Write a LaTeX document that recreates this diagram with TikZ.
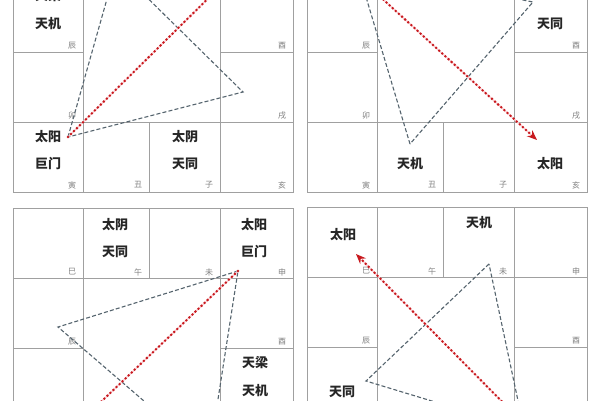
\documentclass[tikz,border=0pt]{standalone}
\usepackage{fontspec}
\newfontfamily\cjk{Noto Sans CJK SC}
\usetikzlibrary{calc,arrows.meta}
\definecolor{gridgray}{RGB}{160,160,160}
\definecolor{trigray}{RGB}{85,100,110}
\definecolor{arrowred}{RGB}{200,25,30}
\definecolor{halopink}{RGB}{250,205,210}

\tikzset{
  cellline/.style={draw=gridgray, line width=0.9pt},
  star/.style={font=\cjk\bfseries\fontsize{13}{13}\selectfont, text=black!85, inner sep=0pt},
  branch/.style={font=\cjk\fontsize{8}{8}\selectfont, text=black!50, inner sep=0pt},
  sanhe/.style={draw=trigray, line width=1.1pt, dash pattern=on 4pt off 2.2pt},
  halo/.style={draw=halopink, line width=1.4pt},
  chong/.style={draw=arrowred, line width=2.8pt, line cap=round, dash pattern=on 0pt off 4.2pt, -{Stealth[length=10pt,width=8pt]}},
}

\begin{document}
\begin{tikzpicture}[x=1pt,y=-1pt]
\useasboundingbox (0,0) rectangle (600,400);
\clip (0,0) rectangle (600,400);
\fill[white] (0,0) rectangle (600,400);

\coordinate (tl) at (13,-88);
\coordinate (tr) at (307,-88);
\coordinate (bl) at (13,208);
\coordinate (br) at (307,207);

\draw[cellline] (tl) rectangle ($ (tl)+(280,280) $)
  ($ (tl)+(0,70) $) -- ($ (tl)+(280,70) $) ($ (tl)+(0,210) $) -- ($ (tl)+(280,210) $)
  ($ (tl)+(0,140) $) -- ($ (tl)+(70,140) $) ($ (tl)+(207,140) $) -- ($ (tl)+(280,140) $)
  ($ (tl)+(70,0) $) -- ($ (tl)+(70,280) $) ($ (tl)+(207,0) $) -- ($ (tl)+(207,280) $)
  ($ (tl)+(136,0) $) -- ($ (tl)+(136,70) $) ($ (tl)+(136,210) $) -- ($ (tl)+(136,280) $);
\draw[cellline] (tr) rectangle ($ (tr)+(280,280) $)
  ($ (tr)+(0,70) $) -- ($ (tr)+(280,70) $) ($ (tr)+(0,210) $) -- ($ (tr)+(280,210) $)
  ($ (tr)+(0,140) $) -- ($ (tr)+(70,140) $) ($ (tr)+(207,140) $) -- ($ (tr)+(280,140) $)
  ($ (tr)+(70,0) $) -- ($ (tr)+(70,280) $) ($ (tr)+(207,0) $) -- ($ (tr)+(207,280) $)
  ($ (tr)+(136,0) $) -- ($ (tr)+(136,70) $) ($ (tr)+(136,210) $) -- ($ (tr)+(136,280) $);
\draw[cellline] (bl) rectangle ($ (bl)+(280,280) $)
  ($ (bl)+(0,70) $) -- ($ (bl)+(280,70) $) ($ (bl)+(0,210) $) -- ($ (bl)+(280,210) $)
  ($ (bl)+(0,140) $) -- ($ (bl)+(70,140) $) ($ (bl)+(207,140) $) -- ($ (bl)+(280,140) $)
  ($ (bl)+(70,0) $) -- ($ (bl)+(70,280) $) ($ (bl)+(207,0) $) -- ($ (bl)+(207,280) $)
  ($ (bl)+(136,0) $) -- ($ (bl)+(136,70) $) ($ (bl)+(136,210) $) -- ($ (bl)+(136,280) $);
\draw[cellline] (br) rectangle ($ (br)+(280,280) $)
  ($ (br)+(0,70) $) -- ($ (br)+(280,70) $) ($ (br)+(0,210) $) -- ($ (br)+(280,210) $)
  ($ (br)+(0,140) $) -- ($ (br)+(70,140) $) ($ (br)+(207,140) $) -- ($ (br)+(280,140) $)
  ($ (br)+(70,0) $) -- ($ (br)+(70,280) $) ($ (br)+(207,0) $) -- ($ (br)+(207,280) $)
  ($ (br)+(136,0) $) -- ($ (br)+(136,70) $) ($ (br)+(136,210) $) -- ($ (br)+(136,280) $);

% top left
\node[star] (tlliang) at ($ (tl)+(35,84) $) {天梁};
\node[star] (tlji) at ($ (tl)+(35,112) $) {天机};
\node[star] (tlyang) at ($ (tl)+(35,225) $) {太阳};
\node[star] (tlmen) at ($ (tl)+(35,252) $) {巨门};
\node[star] (tlyinstar) at ($ (tl)+(172,225) $) {太阴};
\node[star] (tltong) at ($ (tl)+(172,252) $) {天同};
\node[branch] (tlbchen) at ($ (tl)+(59,134) $) {辰};
\node[branch] (tlbyou) at ($ (tl)+(269,134) $) {酉};
\node[branch] (tlbmao) at ($ (tl)+(59,204) $) {卯};
\node[branch] (tlbxu) at ($ (tl)+(269,204) $) {戌};
\node[branch] (tlbyin) at ($ (tl)+(59,273) $) {寅};
\node[branch] (tlbchou) at ($ (tl)+(125,273) $) {丑};
\node[branch] (tlbzi) at ($ (tl)+(196,273) $) {子};
\node[branch] (tlbhai) at ($ (tl)+(269,273) $) {亥};

% top right
\node[star] (trtong) at ($ (tr)+(243,112) $) {天同};
\node[star] (trji) at ($ (tr)+(103,252) $) {天机};
\node[star] (tryang) at ($ (tr)+(243,252) $) {太阳};
\node[branch] (trbchen) at ($ (tr)+(59,134) $) {辰};
\node[branch] (trbyou) at ($ (tr)+(269,134) $) {酉};
\node[branch] (trbmao) at ($ (tr)+(59,204) $) {卯};
\node[branch] (trbxu) at ($ (tr)+(269,204) $) {戌};
\node[branch] (trbyin) at ($ (tr)+(59,273) $) {寅};
\node[branch] (trbchou) at ($ (tr)+(125,273) $) {丑};
\node[branch] (trbzi) at ($ (tr)+(196,273) $) {子};
\node[branch] (trbhai) at ($ (tr)+(269,273) $) {亥};

% bottom left
\node[star] (blyinstar) at ($ (bl)+(102,17) $) {太阴};
\node[star] (bltong) at ($ (bl)+(102,44) $) {天同};
\node[star] (blyang) at ($ (bl)+(241,17) $) {太阳};
\node[star] (blmen) at ($ (bl)+(241,44) $) {巨门};
\node[star] (blliang) at ($ (bl)+(242,155) $) {天梁};
\node[star] (blji) at ($ (bl)+(242,183) $) {天机};
\node[branch] (blbsi) at ($ (bl)+(59,64) $) {巳};
\node[branch] (blbwu) at ($ (bl)+(125,64) $) {午};
\node[branch] (blbwei) at ($ (bl)+(196,64) $) {未};
\node[branch] (blbshen) at ($ (bl)+(269,64) $) {申};
\node[branch] (blbchen) at ($ (bl)+(59,134) $) {辰};
\node[branch] (blbyou) at ($ (bl)+(269,134) $) {酉};

% bottom right
\node[star] (bryang) at ($ (br)+(36,28) $) {太阳};
\node[star] (brji) at ($ (br)+(172,16) $) {天机};
\node[star] (brtong) at ($ (br)+(35,185) $) {天同};
\node[branch] (brbsi) at ($ (br)+(59,64) $) {巳};
\node[branch] (brbwu) at ($ (br)+(125,64) $) {午};
\node[branch] (brbwei) at ($ (br)+(196,64) $) {未};
\node[branch] (brbshen) at ($ (br)+(269,64) $) {申};
\node[branch] (brbchen) at ($ (br)+(59,134) $) {辰};
\node[branch] (brbyou) at ($ (br)+(269,134) $) {酉};

\coordinate (tlyin) at ($ (tl)+(55,225) $);
\coordinate (tlwu) at ($ (tl)+(103,55) $);
\coordinate (tlxu) at ($ (tl)+(230,180) $);
\coordinate (tlshen) at ($ (tl)+(237,45) $);
\draw[sanhe] (tlyin) -- (tlwu) -- (tlxu) -- cycle;
\draw[halo,shorten >=8pt] (tlyin) -- (tlshen);
\draw[chong] (tlyin) -- (tlshen);

\coordinate (trchou) at ($ (tr)+(103,232) $);
\coordinate (tryou) at ($ (tr)+(226,90) $);
\coordinate (trsi) at ($ (tr)+(50,55) $);
\coordinate (trsifrom) at ($ (tr)+(33,48) $);
\coordinate (trhai) at ($ (tr)+(230,228) $);
\draw[sanhe] (trchou) -- (trsi) -- (tryou) -- cycle;
\draw[halo,shorten >=8pt] (trsifrom) -- (trhai);
\draw[chong] (trsifrom) -- (trhai);

\coordinate (blshen) at ($ (bl)+(225,63) $);
\coordinate (blchen) at ($ (bl)+(45,119) $);
\coordinate (blzi) at ($ (bl)+(196,249) $);
\coordinate (blyin) at ($ (bl)+(48,232) $);
\draw[sanhe] (blshen) -- (blchen) -- (blzi) -- cycle;
\draw[halo,shorten >=8pt] (blshen) -- (blyin);
\draw[chong] (blshen) -- (blyin);

\coordinate (brwei) at ($ (br)+(182,57) $);
\coordinate (brmao) at ($ (br)+(59,174) $);
\coordinate (brhai) at ($ (br)+(217,222) $);
\coordinate (brhaifrom) at ($ (br)+(233,233) $);
\coordinate (brsi) at ($ (br)+(49,47) $);
\draw[sanhe] (brwei) -- (brmao) -- (brhai) -- cycle;
\draw[halo,shorten >=8pt] (brhaifrom) -- (brsi);
\draw[chong] (brhaifrom) -- (brsi);

\end{tikzpicture}
\end{document}
